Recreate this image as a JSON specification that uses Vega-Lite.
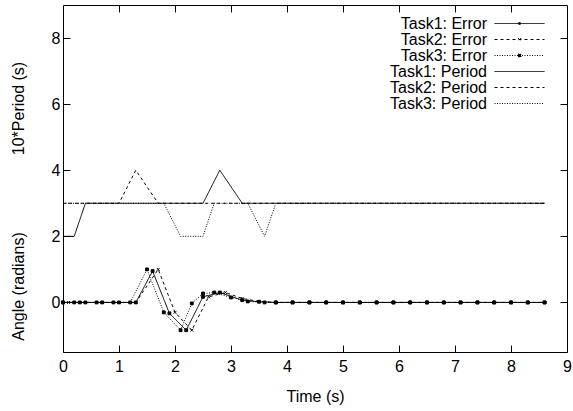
{
  "$schema": "https://vega.github.io/schema/vega-lite/v6.json",
  "width": 504,
  "height": 347,
  "autosize": "none",
  "padding": {"left": 63, "top": 5, "right": 6, "bottom": 59},
  "config": {
    "view": {"stroke": "black", "strokeWidth": 1},
    "font": "Liberation Sans",
    "axis": {
      "domain": false,
      "grid": false,
      "tickColor": "black",
      "tickSize": -7,
      "tickWidth": 1,
      "labelColor": "black",
      "labelFontSize": 16,
      "labelFont": "Liberation Sans",
      "titleFont": "Liberation Sans",
      "titleFontSize": 16,
      "titleFontWeight": "normal",
      "titleColor": "black",
      "labelFlush": false,
      "labelOverlap": false
    }
  },
  "data": {
    "values": [
      {"series": "Task1: Error", "t": 0, "v": 0},
      {"series": "Task1: Error", "t": 0.2, "v": 0},
      {"series": "Task1: Error", "t": 0.4, "v": 0},
      {"series": "Task1: Error", "t": 0.7, "v": 0},
      {"series": "Task1: Error", "t": 1.0, "v": 0},
      {"series": "Task1: Error", "t": 1.3, "v": 0},
      {"series": "Task1: Error", "t": 1.6, "v": 0.95},
      {"series": "Task1: Error", "t": 1.9, "v": -0.33},
      {"series": "Task1: Error", "t": 2.2, "v": -0.84},
      {"series": "Task1: Error", "t": 2.5, "v": 0.17},
      {"series": "Task1: Error", "t": 2.8, "v": 0.3},
      {"series": "Task1: Error", "t": 3.2, "v": 0.07},
      {"series": "Task1: Error", "t": 3.5, "v": 0.02},
      {"series": "Task1: Error", "t": 3.8, "v": 0},
      {"series": "Task1: Error", "t": 4.1, "v": 0},
      {"series": "Task1: Error", "t": 4.4, "v": 0},
      {"series": "Task1: Error", "t": 4.7, "v": 0},
      {"series": "Task1: Error", "t": 5.0, "v": 0},
      {"series": "Task1: Error", "t": 5.3, "v": 0},
      {"series": "Task1: Error", "t": 5.6, "v": 0},
      {"series": "Task1: Error", "t": 5.9, "v": 0},
      {"series": "Task1: Error", "t": 6.2, "v": 0},
      {"series": "Task1: Error", "t": 6.5, "v": 0},
      {"series": "Task1: Error", "t": 6.8, "v": 0},
      {"series": "Task1: Error", "t": 7.1, "v": 0},
      {"series": "Task1: Error", "t": 7.4, "v": 0},
      {"series": "Task1: Error", "t": 7.7, "v": 0},
      {"series": "Task1: Error", "t": 8.0, "v": 0},
      {"series": "Task1: Error", "t": 8.3, "v": 0},
      {"series": "Task1: Error", "t": 8.6, "v": 0},

      {"series": "Task2: Error", "t": 0, "v": 0},
      {"series": "Task2: Error", "t": 0.1, "v": 0},
      {"series": "Task2: Error", "t": 0.4, "v": 0},
      {"series": "Task2: Error", "t": 0.7, "v": 0},
      {"series": "Task2: Error", "t": 1.0, "v": 0},
      {"series": "Task2: Error", "t": 1.3, "v": 0},
      {"series": "Task2: Error", "t": 1.7, "v": 1.0},
      {"series": "Task2: Error", "t": 2.0, "v": -0.3},
      {"series": "Task2: Error", "t": 2.3, "v": -0.84},
      {"series": "Task2: Error", "t": 2.6, "v": 0.17},
      {"series": "Task2: Error", "t": 2.9, "v": 0.3},
      {"series": "Task2: Error", "t": 3.2, "v": 0.12},
      {"series": "Task2: Error", "t": 3.5, "v": 0.03},
      {"series": "Task2: Error", "t": 3.8, "v": 0},
      {"series": "Task2: Error", "t": 4.1, "v": 0},
      {"series": "Task2: Error", "t": 4.4, "v": 0},
      {"series": "Task2: Error", "t": 4.7, "v": 0},
      {"series": "Task2: Error", "t": 5.0, "v": 0},
      {"series": "Task2: Error", "t": 5.3, "v": 0},
      {"series": "Task2: Error", "t": 5.6, "v": 0},
      {"series": "Task2: Error", "t": 5.9, "v": 0},
      {"series": "Task2: Error", "t": 6.2, "v": 0},
      {"series": "Task2: Error", "t": 6.5, "v": 0},
      {"series": "Task2: Error", "t": 6.8, "v": 0},
      {"series": "Task2: Error", "t": 7.1, "v": 0},
      {"series": "Task2: Error", "t": 7.4, "v": 0},
      {"series": "Task2: Error", "t": 7.7, "v": 0},
      {"series": "Task2: Error", "t": 8.0, "v": 0},
      {"series": "Task2: Error", "t": 8.3, "v": 0},
      {"series": "Task2: Error", "t": 8.6, "v": 0},

      {"series": "Task3: Error", "t": 0, "v": 0},
      {"series": "Task3: Error", "t": 0.3, "v": 0},
      {"series": "Task3: Error", "t": 0.6, "v": 0},
      {"series": "Task3: Error", "t": 0.9, "v": 0},
      {"series": "Task3: Error", "t": 1.2, "v": 0},
      {"series": "Task3: Error", "t": 1.5, "v": 1.0},
      {"series": "Task3: Error", "t": 1.8, "v": -0.3},
      {"series": "Task3: Error", "t": 2.1, "v": -0.84},
      {"series": "Task3: Error", "t": 2.3, "v": -0.03},
      {"series": "Task3: Error", "t": 2.5, "v": 0.27},
      {"series": "Task3: Error", "t": 2.7, "v": 0.3},
      {"series": "Task3: Error", "t": 3.0, "v": 0.15},
      {"series": "Task3: Error", "t": 3.3, "v": 0.03},
      {"series": "Task3: Error", "t": 3.6, "v": 0},
      {"series": "Task3: Error", "t": 3.8, "v": 0},
      {"series": "Task3: Error", "t": 4.1, "v": 0},
      {"series": "Task3: Error", "t": 4.4, "v": 0},
      {"series": "Task3: Error", "t": 4.7, "v": 0},
      {"series": "Task3: Error", "t": 5.0, "v": 0},
      {"series": "Task3: Error", "t": 5.3, "v": 0},
      {"series": "Task3: Error", "t": 5.6, "v": 0},
      {"series": "Task3: Error", "t": 5.9, "v": 0},
      {"series": "Task3: Error", "t": 6.2, "v": 0},
      {"series": "Task3: Error", "t": 6.5, "v": 0},
      {"series": "Task3: Error", "t": 6.8, "v": 0},
      {"series": "Task3: Error", "t": 7.1, "v": 0},
      {"series": "Task3: Error", "t": 7.4, "v": 0},
      {"series": "Task3: Error", "t": 7.7, "v": 0},
      {"series": "Task3: Error", "t": 8.0, "v": 0},
      {"series": "Task3: Error", "t": 8.3, "v": 0},
      {"series": "Task3: Error", "t": 8.6, "v": 0},

      {"series": "Task1: Period", "t": 0, "v": 2},
      {"series": "Task1: Period", "t": 0.2, "v": 2},
      {"series": "Task1: Period", "t": 0.4, "v": 3},
      {"series": "Task1: Period", "t": 0.7, "v": 3},
      {"series": "Task1: Period", "t": 1.0, "v": 3},
      {"series": "Task1: Period", "t": 1.3, "v": 3},
      {"series": "Task1: Period", "t": 1.6, "v": 3},
      {"series": "Task1: Period", "t": 1.9, "v": 3},
      {"series": "Task1: Period", "t": 2.2, "v": 3},
      {"series": "Task1: Period", "t": 2.5, "v": 3},
      {"series": "Task1: Period", "t": 2.8, "v": 4},
      {"series": "Task1: Period", "t": 3.2, "v": 3},
      {"series": "Task1: Period", "t": 3.5, "v": 3},
      {"series": "Task1: Period", "t": 3.8, "v": 3},
      {"series": "Task1: Period", "t": 4.1, "v": 3},
      {"series": "Task1: Period", "t": 4.4, "v": 3},
      {"series": "Task1: Period", "t": 4.7, "v": 3},
      {"series": "Task1: Period", "t": 5.0, "v": 3},
      {"series": "Task1: Period", "t": 5.3, "v": 3},
      {"series": "Task1: Period", "t": 5.6, "v": 3},
      {"series": "Task1: Period", "t": 5.9, "v": 3},
      {"series": "Task1: Period", "t": 6.2, "v": 3},
      {"series": "Task1: Period", "t": 6.5, "v": 3},
      {"series": "Task1: Period", "t": 6.8, "v": 3},
      {"series": "Task1: Period", "t": 7.1, "v": 3},
      {"series": "Task1: Period", "t": 7.4, "v": 3},
      {"series": "Task1: Period", "t": 7.7, "v": 3},
      {"series": "Task1: Period", "t": 8.0, "v": 3},
      {"series": "Task1: Period", "t": 8.3, "v": 3},
      {"series": "Task1: Period", "t": 8.6, "v": 3},

      {"series": "Task2: Period", "t": 0, "v": 3},
      {"series": "Task2: Period", "t": 0.1, "v": 3},
      {"series": "Task2: Period", "t": 0.4, "v": 3},
      {"series": "Task2: Period", "t": 0.7, "v": 3},
      {"series": "Task2: Period", "t": 1.0, "v": 3},
      {"series": "Task2: Period", "t": 1.3, "v": 4},
      {"series": "Task2: Period", "t": 1.7, "v": 3},
      {"series": "Task2: Period", "t": 2.0, "v": 3},
      {"series": "Task2: Period", "t": 2.3, "v": 3},
      {"series": "Task2: Period", "t": 2.6, "v": 3},
      {"series": "Task2: Period", "t": 2.9, "v": 3},
      {"series": "Task2: Period", "t": 3.2, "v": 3},
      {"series": "Task2: Period", "t": 3.5, "v": 3},
      {"series": "Task2: Period", "t": 3.8, "v": 3},
      {"series": "Task2: Period", "t": 4.1, "v": 3},
      {"series": "Task2: Period", "t": 4.4, "v": 3},
      {"series": "Task2: Period", "t": 4.7, "v": 3},
      {"series": "Task2: Period", "t": 5.0, "v": 3},
      {"series": "Task2: Period", "t": 5.3, "v": 3},
      {"series": "Task2: Period", "t": 5.6, "v": 3},
      {"series": "Task2: Period", "t": 5.9, "v": 3},
      {"series": "Task2: Period", "t": 6.2, "v": 3},
      {"series": "Task2: Period", "t": 6.5, "v": 3},
      {"series": "Task2: Period", "t": 6.8, "v": 3},
      {"series": "Task2: Period", "t": 7.1, "v": 3},
      {"series": "Task2: Period", "t": 7.4, "v": 3},
      {"series": "Task2: Period", "t": 7.7, "v": 3},
      {"series": "Task2: Period", "t": 8.0, "v": 3},
      {"series": "Task2: Period", "t": 8.3, "v": 3},
      {"series": "Task2: Period", "t": 8.6, "v": 3},

      {"series": "Task3: Period", "t": 0, "v": 3},
      {"series": "Task3: Period", "t": 0.3, "v": 3},
      {"series": "Task3: Period", "t": 0.6, "v": 3},
      {"series": "Task3: Period", "t": 0.9, "v": 3},
      {"series": "Task3: Period", "t": 1.2, "v": 3},
      {"series": "Task3: Period", "t": 1.5, "v": 3},
      {"series": "Task3: Period", "t": 1.8, "v": 3},
      {"series": "Task3: Period", "t": 2.1, "v": 2},
      {"series": "Task3: Period", "t": 2.3, "v": 2},
      {"series": "Task3: Period", "t": 2.5, "v": 2},
      {"series": "Task3: Period", "t": 2.7, "v": 3},
      {"series": "Task3: Period", "t": 3.0, "v": 3},
      {"series": "Task3: Period", "t": 3.3, "v": 3},
      {"series": "Task3: Period", "t": 3.6, "v": 2},
      {"series": "Task3: Period", "t": 3.8, "v": 3},
      {"series": "Task3: Period", "t": 4.1, "v": 3},
      {"series": "Task3: Period", "t": 4.4, "v": 3},
      {"series": "Task3: Period", "t": 4.7, "v": 3},
      {"series": "Task3: Period", "t": 5.0, "v": 3},
      {"series": "Task3: Period", "t": 5.3, "v": 3},
      {"series": "Task3: Period", "t": 5.6, "v": 3},
      {"series": "Task3: Period", "t": 5.9, "v": 3},
      {"series": "Task3: Period", "t": 6.2, "v": 3},
      {"series": "Task3: Period", "t": 6.5, "v": 3},
      {"series": "Task3: Period", "t": 6.8, "v": 3},
      {"series": "Task3: Period", "t": 7.1, "v": 3},
      {"series": "Task3: Period", "t": 7.4, "v": 3},
      {"series": "Task3: Period", "t": 7.7, "v": 3},
      {"series": "Task3: Period", "t": 8.0, "v": 3},
      {"series": "Task3: Period", "t": 8.3, "v": 3},
      {"series": "Task3: Period", "t": 8.6, "v": 3}
    ]
  },
  "layer": [
    {
      "mark": {"type": "line", "color": "black", "strokeWidth": 1},
      "encoding": {
        "x": {"field": "t", "type": "quantitative",
              "scale": {"domain": [0, 9], "nice": false, "zero": false},
              "axis": {"orient": "bottom", "values": [0,1,2,3,4,5,6,7,8,9], "title": "Time (s)", "labelPadding": 13, "titleY": 44, "titleBaseline": "middle"}},
        "y": {"field": "v", "type": "quantitative",
              "scale": {"domain": [-1.5, 9], "nice": false, "zero": false},
              "axis": {"orient": "left", "values": [0,2,4,6,8], "title": "Angle (radians)", "labelPadding": 10, "titleX": -45, "titleY": 281, "titleAngle": 270, "titleBaseline": "middle", "titleAlign": "center"}},
        "strokeDash": {"field": "series", "type": "nominal",
              "scale": {"domain": ["Task1: Error", "Task2: Error", "Task3: Error", "Task1: Period", "Task2: Period", "Task3: Period"],
                        "range": [[1,0],[3,3],[1,1.5],[1,0],[3,3],[1,1.5]]},
              "legend": {"orient": "none", "legendX": 448.5, "legendY": 10.5, "title": null,
                         "symbolType": "M-12.5,0H12.5", "symbolSize": 16, "symbolStrokeColor": "black", "symbolFillColor": "black", "symbolStrokeWidth": 1,
                         "labelAlign": "right", "labelOffset": -40.5, "labelFontSize": 16, "labelColor": "black", "labelFont": "Liberation Sans",
                         "rowPadding": 0, "padding": 0,
                         "encode": {"symbols": {"update": {"shape": {"signal": "datum.value === 'Task1: Error' ? 'M-12.5,0H12.5M-0.4,-0.4H0.4V0.4H-0.4Z' : datum.value === 'Task2: Error' ? 'M-12.5,0H12.5M-0.7,-0.7L0.7,0.7M0.7,-0.7L-0.7,0.7' : datum.value === 'Task3: Error' ? 'M-12.5,0H12.5M-0.75,-0.75H0.75V0.75H-0.75Z' : 'M-12.5,0H12.5'"}}}}}}
      }
    },
    {
      "transform": [{"filter": {"field": "series", "oneOf": ["Task1: Error", "Task2: Error", "Task3: Error"]}}],
      "mark": {"type": "point", "filled": true, "color": "black", "stroke": "black", "strokeWidth": 1, "opacity": 1},
      "encoding": {
        "x": {"field": "t", "type": "quantitative", "scale": {"domain": [0, 9], "nice": false, "zero": false}, "axis": null},
        "y": {"field": "v", "type": "quantitative", "scale": {"domain": [-1.5, 9], "nice": false, "zero": false}, "axis": null},
        "shape": {"field": "series", "type": "nominal",
                  "scale": {"domain": ["Task1: Error", "Task2: Error", "Task3: Error"], "range": ["square", "M-1,-1L1,1M1,-1L-1,1", "square"]},
                  "legend": null},
        "size": {"value": 8}
      }
    },
    {
      "mark": {"type": "point", "opacity": 0},
      "encoding": {
        "x": {"field": "t", "type": "quantitative", "scale": {"domain": [0, 9], "nice": false, "zero": false},
              "axis": {"orient": "top", "values": [1,2,3,4,5,6,7,8], "labels": false, "title": null}},
        "y": {"field": "v", "type": "quantitative", "scale": {"domain": [-1.5, 9], "nice": false, "zero": false},
              "axis": {"orient": "right", "values": [0,2,4,6,8], "labels": false, "title": null}}
      }
    },
    {
      "mark": {"type": "point", "opacity": 0},
      "encoding": {
        "x": {"field": "t", "type": "quantitative", "scale": {"domain": [0, 9], "nice": false, "zero": false}, "axis": null},
        "y": {"field": "v", "type": "quantitative", "scale": {"domain": [-1.5, 9], "nice": false, "zero": false},
              "axis": {"orient": "left", "ticks": false, "labels": false, "title": "10*Period (s)", "titleX": -45, "titleY": 103, "titleAngle": 270, "titleBaseline": "middle", "titleAlign": "center"}}
      }
    }
  ],
  "resolve": {"scale": {"x": "independent", "y": "independent"}}
}
